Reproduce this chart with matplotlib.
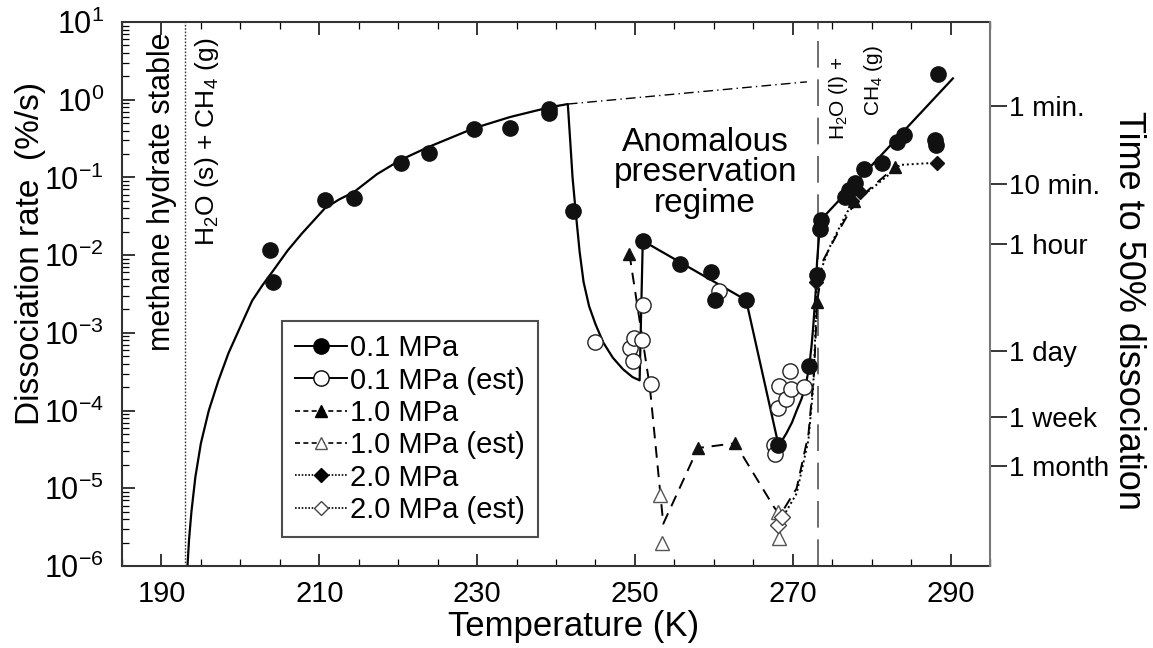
import numpy as np
import matplotlib.pyplot as plt
from matplotlib.lines import Line2D
from matplotlib.ticker import MultipleLocator, FixedLocator, LogLocator, NullLocator, NullFormatter

plt.rcParams['font.family'] = ['Liberation Sans', 'DejaVu Sans']
plt.rcParams['mathtext.fontset'] = 'custom'
plt.rcParams['mathtext.rm'] = 'Liberation Sans'
plt.rcParams['mathtext.it'] = 'Liberation Sans:italic'
plt.rcParams['mathtext.bf'] = 'Liberation Sans:bold'

# --- measured points (T in K, rate in %/s) ---
t_01 = [203.8, 204.1, 210.7, 214.4, 220.3, 223.9, 229.6, 234.2, 239.1, 239.1,
        242.2, 251.0, 255.7, 259.7, 260.1, 264.1, 268.2, 272.1, 273.1, 273.4,
        273.6, 276.6, 277.1, 277.9, 279.0, 281.3, 283.2, 284.1, 288.1, 288.0, 288.4]
r_01 = [0.0116, 0.00455, 0.052, 0.055, 0.152, 0.204, 0.42, 0.436, 0.77, 0.67,
        0.037, 0.0153, 0.0078, 0.0061, 0.00264, 0.00264, 3.6e-5, 3.7e-4, 0.0055, 0.022,
        0.028, 0.056, 0.069, 0.084, 0.128, 0.152, 0.29, 0.35, 0.26, 0.30, 2.12]

t_01_est = [244.9, 249.4, 249.7, 249.9, 250.9, 251.0, 252.1, 260.6, 267.6, 267.8,
            268.2, 268.3, 269.2, 269.7, 269.8, 271.4]
r_01_est = [7.6e-4, 6.3e-4, 4.4e-4, 8.5e-4, 8.2e-4, 2.28e-3, 2.2e-4, 3.5e-3, 3.6e-5, 2.8e-5,
            1.07e-4, 2.1e-4, 1.4e-4, 3.2e-4, 1.9e-4, 2.0e-4]

t_10 = [249.3, 258.0, 262.7, 273.1, 277.8, 283.0]
r_10 = [1.05e-2, 3.3e-5, 3.8e-5, 2.5e-3, 0.05, 0.137]
t_10_est = [253.2, 253.4, 268.1, 268.3]
r_10_est = [8.2e-6, 2.0e-6, 5.0e-6, 2.3e-6]

t_20 = [272.9, 277.5, 278.5, 288.3]
r_20 = [0.0045, 0.05, 0.065, 0.155]
t_20_est = [268.2, 268.6]
r_20_est = [3.4e-6, 4.3e-6]

# --- curves ---
fit01_t = [193.3, 193.5, 193.8, 194.3, 195.0, 196.0, 197.2, 198.5, 200.0, 201.5,
           202.8, 204.1, 206.0, 207.8, 210.7, 212.5, 214.4, 217.3, 220.3, 223.9,
           229.6, 234.2, 239.2, 241.5,
           241.8, 242.1, 242.5, 243.0, 243.5, 244.2, 245.0, 246.0, 247.2, 248.5,
           249.7, 250.6, 251.0,
           264.1, 268.2, 268.7, 269.2, 269.9, 270.5, 271.1, 271.6, 272.1, 272.4,
           272.6, 272.9, 273.1, 273.5, 290.3]
fit01_r = [1e-6, 2.2e-6, 5e-6, 1.4e-5, 3.8e-5, 1.0e-4, 2.4e-4, 5.5e-4, 1.2e-3, 2.6e-3,
           4.1e-3, 6.2e-3, 1.15e-2, 1.9e-2, 4.0e-2, 5.2e-2, 6.5e-2, 0.11, 0.168, 0.248,
           0.43, 0.60, 0.80, 0.88,
           0.3, 0.1, 0.036, 0.011, 4.5e-3, 2.2e-3, 1.3e-3, 7.5e-4, 4.8e-4, 3.4e-4,
           2.7e-4, 2.45e-4, 0.0153,
           0.00264, 3.6e-5, 4.2e-5, 5.1e-5, 7.0e-5, 1.0e-4, 1.4e-4, 2.0e-4, 3.7e-4, 7.0e-4,
           1.2e-3, 3.2e-3, 8.7e-3, 0.028, 1.88]
extrap_t = [241.5, 271.8]
extrap_r = [0.88, 1.7]

fit10_t = [249.3, 251.9, 253.6, 258.0, 262.7, 267.6, 268.4, 270.5, 272.0, 272.7, 273.1,
           273.9, 276.1, 278.0, 283.0]
fit10_r = [1.05e-2, 2.0e-4, 3.5e-6, 3.3e-5, 3.8e-5, 5.8e-6, 4.5e-6, 1.0e-5, 5.0e-5, 3.0e-4, 2.5e-3,
           8.7e-3, 0.023, 0.05, 0.137]

fit20_t = [268.2, 270.5, 272.0, 272.6, 272.9, 273.0, 274.7, 276.9, 278.8, 282.4, 283.6, 288.3]
fit20_r = [3.4e-6, 8.6e-6, 4.2e-5, 2.0e-4, 1.2e-3, 4.5e-3, 0.0128, 0.036, 0.057, 0.113, 0.145, 0.155]

x_labelled = [190, 210, 230, 250, 270, 290]

# right axis: time to 50% dissociation
half_times_s = [60, 600, 3600, 86400, 604800, 2592000]
half_labels = ['1 min.', '10 min.', '1 hour', '1 day', '1 week', '1 month']

fig = plt.figure(figsize=(11.53, 6.48), dpi=100)
ax = fig.add_axes([0.1058, 0.1265, 0.7528, 0.8395])
ax.set_yscale('log')
ax.set_xlim(185, 295)
ax.set_ylim(1e-6, 10)

# boundaries
ax.axvline(193.0, color='#333333', ls=(0, (1.2, 1.2)), lw=1.0)
ax.axvline(273.15, color='#555555', ls=(0, (16, 7)), lw=1.2)

ax.plot(fit01_t, fit01_r, '-', color='k', lw=1.6)
ax.plot(extrap_t, extrap_r, color='k', lw=1.0, ls=(0, (7, 3, 1, 3)))
ax.plot(fit10_t, fit10_r, color='k', lw=1.4, ls=(0, (6, 4)))
ax.plot(fit20_t, fit20_r, color='k', lw=1.4, ls=(0, (1, 1.5)))

ax.plot(t_01_est, r_01_est, 'o', ls='none', ms=11, mfc='white', mec='#222222', mew=1.0)
ax.plot(t_10_est, r_10_est, '^', ls='none', ms=10, mfc='white', mec='#555555', mew=1.0)
ax.plot(t_20_est, r_20_est, 'D', ls='none', ms=8, mfc='white', mec='#444444', mew=1.0)
ax.plot(t_01, r_01, 'o', ls='none', ms=11, color='#111111')
ax.plot(t_10, r_10, '^', ls='none', ms=9, color='#111111')
ax.plot(t_20, r_20, 'D', ls='none', ms=7, color='#111111')

# ticks
ax.xaxis.set_major_locator(FixedLocator(x_labelled))
ax.xaxis.set_minor_locator(MultipleLocator(5))
ax.yaxis.set_major_locator(LogLocator(base=10, numticks=20))
ax.yaxis.set_minor_locator(LogLocator(base=10, subs=np.arange(2, 10), numticks=20))
ax.yaxis.set_minor_formatter(NullFormatter())
ax.tick_params(axis='both', which='major', direction='in', length=9, width=1.1,
               top=True, right=False)
ax.tick_params(axis='both', which='minor', direction='in', length=5, width=0.9,
               top=True, right=False)
ax.tick_params(axis='x', which='major', labelsize=21, pad=10)
ax.tick_params(axis='y', which='major', labelsize=22, pad=13)
for s in ['left', 'bottom', 'top']:
    ax.spines[s].set_linewidth(1.5)
    ax.spines[s].set_color('#333333')
ax.spines['right'].set_visible(False)

ax.set_xlabel('Temperature (K)', fontsize=25)
ax.xaxis.set_label_coords(0.52, -0.08)
ax.set_ylabel('Dissociation rate  (%/s)', fontsize=24)
ax.yaxis.set_label_coords(-0.088, 0.575)

ax2 = ax.twinx()
ax2.set_yscale('log')
ax2.set_ylim(ax.get_ylim())
ax2.yaxis.set_major_locator(FixedLocator([50.0 / t for t in half_times_s]))
ax2.yaxis.set_minor_locator(NullLocator())
ax2.set_yticklabels(half_labels)
ax2.tick_params(axis='y', direction='out', length=12, width=1.1, labelsize=20, pad=2)
for s in ['left', 'bottom', 'top']:
    ax2.spines[s].set_visible(False)
ax2.spines['right'].set_color('#777777')
ax2.spines['right'].set_linewidth(1.5)
ax2.set_ylabel('Time to 50% dissociation', fontsize=26, rotation=270, va='center')
ax2.yaxis.set_label_coords(1.16, 0.47)

# annotations
ax.text(190.1, 7.4, 'methane hydrate stable', rotation=90, ha='center', va='top', fontsize=22)
ax.text(195.8, 6.2, r'H$_2$O (s) + CH$_4$ (g)', rotation=90, ha='center', va='top', fontsize=19)
ax.text(275.8, 3.6, r'H$_2$O (l) +', rotation=90, ha='center', va='top', fontsize=15)
ax.text(280.2, 5.0, r'CH$_4$ (g)', rotation=90, ha='center', va='top', fontsize=15)
ax.text(258.9, 10 ** -0.94, 'Anomalous\npreservation\nregime', ha='center', va='center',
        fontsize=24, linespacing=0.98)

handles = [
    Line2D([], [], color='k', lw=1.4, marker='o', ms=11, mfc='k', mec='k'),
    Line2D([], [], color='k', lw=1.4, marker='o', ms=11, mfc='white', mec='k'),
    Line2D([], [], color='k', lw=1.2, ls=(0, (3, 2)), marker='^', ms=9, mfc='k', mec='k'),
    Line2D([], [], color='k', lw=1.2, ls=(0, (3, 2)), marker='^', ms=9, mfc='white', mec='#555555'),
    Line2D([], [], color='k', lw=1.2, ls=(0, (1, 1)), marker='D', ms=7, mfc='k', mec='k'),
    Line2D([], [], color='k', lw=1.2, ls=(0, (1, 1)), marker='D', ms=7, mfc='white', mec='#444444'),
]
labels = ['0.1 MPa', '0.1 MPa (est)', '1.0 MPa', '1.0 MPa (est)', '2.0 MPa', '2.0 MPa (est)']
leg = ax.legend(handles, labels, loc='lower left', bbox_to_anchor=(0.184, 0.053),
                fontsize=21, frameon=True, fancybox=False, edgecolor='#222222',
                handlelength=1.8, handletextpad=0.1, labelspacing=0.15,
                borderpad=0.45, borderaxespad=0.0)
leg.get_frame().set_linewidth(1.5)

fig.savefig('out.png', dpi=100)
